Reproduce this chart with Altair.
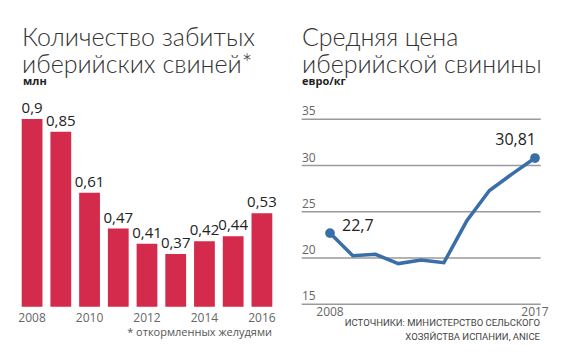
import altair as alt
import pandas as pd

# ---- data ----
pig_years = [2008, 2009, 2010, 2011, 2012, 2013, 2014, 2015, 2016]
pig_values = [0.9, 0.85, 0.61, 0.47, 0.41, 0.37, 0.42, 0.44, 0.53]
pig_tick_years = [2008, 2010, 2012, 2014, 2016]
pig_axis_floor = 0.163  # value at which the bars' baseline sits (truncated axis)

price_years = [2008, 2009, 2010, 2011, 2012, 2013, 2014, 2015, 2016, 2017]
price_values = [22.7, 20.25, 20.4, 19.4, 19.8, 19.5, 24.0, 27.3, 29.1, 30.81]
price_ticks = [15, 20, 25, 30, 35]

BAR = "#D42A4C"
LINE = "#3A6EA8"
TITLE_FONT = "Lato"

def fmt(v):
    return str(v).replace(".", ",")

pig_df = pd.DataFrame({"year": pig_years, "value": pig_values,
                       "label": [fmt(v) for v in pig_values]})
pig_tick_df = pd.DataFrame({"year": pig_tick_years, "label": [str(y) for y in pig_tick_years]})
price_df = pd.DataFrame({"year": price_years, "price": price_values})
ends_df = pd.DataFrame({"year": [price_years[0], price_years[-1]],
                        "price": [price_values[0], price_values[-1]],
                        "label": [fmt(price_values[0]), fmt(price_values[-1])]})
grid_df = pd.DataFrame({"tick": price_ticks, "label": [str(t) for t in price_ticks]})
pyear_df = pd.DataFrame({"year": price_years[:1] + price_years[-1:],
                         "label": [str(price_years[0]), str(price_years[-1])]})

# ---- left chart ----
xb = alt.X("year:O", scale=alt.Scale(domain=pig_years, range=[13.7, 264.3],
                                     paddingInner=0.277, paddingOuter=0), axis=None)
yb = alt.Scale(domain=[pig_axis_floor, 0.9], range=[298.7, 111], clamp=True, zero=False)

bars = alt.Chart(pig_df).mark_bar(color=BAR).encode(
    x=xb, y=alt.Y("value:Q", scale=yb, axis=None))
bar_labels = alt.Chart(pig_df).mark_text(
    baseline="alphabetic", dy=-6, fontSize=15, font="Open Sans", color="#222").encode(
    x=xb, y=alt.Y("value:Q", scale=yb, axis=None), text="label:N")
bar_years = alt.Chart(pig_tick_df).mark_text(
    baseline="middle", fontSize=12, font="Open Sans", color="#666").encode(
    x=xb, y=alt.value(310), text="label:N")

def txt(s, x, y, size, align="left", weight="normal", color="#333", font=TITLE_FONT):
    return alt.Chart(pd.DataFrame({"t": [s]})).mark_text(
        align=align, baseline="middle", fontSize=size, fontWeight=weight,
        color=color, font=font).encode(x=alt.value(x), y=alt.value(y), text="t:N")

left = alt.layer(
    bars, bar_labels, bar_years,
    txt("Количество забитых", 14, 30, 25, weight=300),
    txt("иберийских свиней*", 14, 57, 25, weight=300),
    txt("млн", 15, 74, 11, weight="bold", font="Open Sans", color="#222"),
    txt("* откормленных желудями", 264, 325, 11, align="right", font="Open Sans", color="#555"),
)

# ---- right chart ----
xl = alt.Scale(domain=[2008, 2017], range=[322, 527])
yl = alt.Scale(domain=[15, 35], range=[296.3, 111.3])

grid = alt.Chart(grid_df).mark_rule(color="#9a9a9a", strokeWidth=1.5).encode(
    y=alt.Y("tick:Q", scale=yl, axis=None), x=alt.value(293.7), x2=alt.value(532.7))
grid_labels = alt.Chart(grid_df).mark_text(
    align="left", baseline="bottom", dy=-1, fontSize=12, font="Open Sans", color="#666").encode(
    y=alt.Y("tick:Q", scale=yl, axis=None), x=alt.value(294), text="label:N")
line = alt.Chart(price_df).mark_line(color=LINE, strokeWidth=3.5).encode(
    x=alt.X("year:Q", scale=xl, axis=None), y=alt.Y("price:Q", scale=yl, axis=None))
points = alt.Chart(ends_df).mark_circle(color=LINE, size=95, opacity=1).encode(
    x=alt.X("year:Q", scale=xl, axis=None), y=alt.Y("price:Q", scale=yl, axis=None))
first_label = alt.Chart(ends_df.iloc[:1]).mark_text(
    align="left", baseline="middle", dx=12, dy=-7, fontSize=16, fontWeight=500,
    font="Open Sans", color="#222").encode(
    x=alt.X("year:Q", scale=xl, axis=None), y=alt.Y("price:Q", scale=yl, axis=None), text="label:N")
last_label = alt.Chart(ends_df.iloc[1:]).mark_text(
    align="right", baseline="middle", dx=1, dy=-18, fontSize=16, fontWeight=500,
    font="Open Sans", color="#222").encode(
    x=alt.X("year:Q", scale=xl, axis=None), y=alt.Y("price:Q", scale=yl, axis=None), text="label:N")
year_labels = alt.Chart(pyear_df).mark_text(
    baseline="middle", fontSize=12, font="Open Sans", color="#666").encode(
    x=alt.X("year:Q", scale=xl, axis=None), y=alt.value(303.7), text="label:N")

right = alt.layer(
    grid, grid_labels, line, points, first_label, last_label, year_labels,
    txt("Средняя цена", 294, 30, 25, weight=300),
    txt("иберийской свинины", 294, 57, 25, weight=300),
    txt("евро/кг", 294, 74, 11, weight="bold", font="Open Sans", color="#222"),
    txt("ИСТОЧНИКИ: МИНИСТЕРСТВО СЕЛЬСКОГО", 532, 314.7, 9.5, align="right",
        font="Roboto", color="#444"),
    txt("ХОЗЯЙСТВА ИСПАНИИ, ANICE", 532, 328.7, 9.5, align="right",
        font="Roboto", color="#444"),
)

chart = alt.layer(left, right).resolve_scale(
    x="independent", y="independent"
).properties(
    width=554, height=340, autosize="none", padding=0, background="white"
).configure_view(stroke=None)

chart.save("out.html", embed_options={"renderer": "svg", "actions": False})
